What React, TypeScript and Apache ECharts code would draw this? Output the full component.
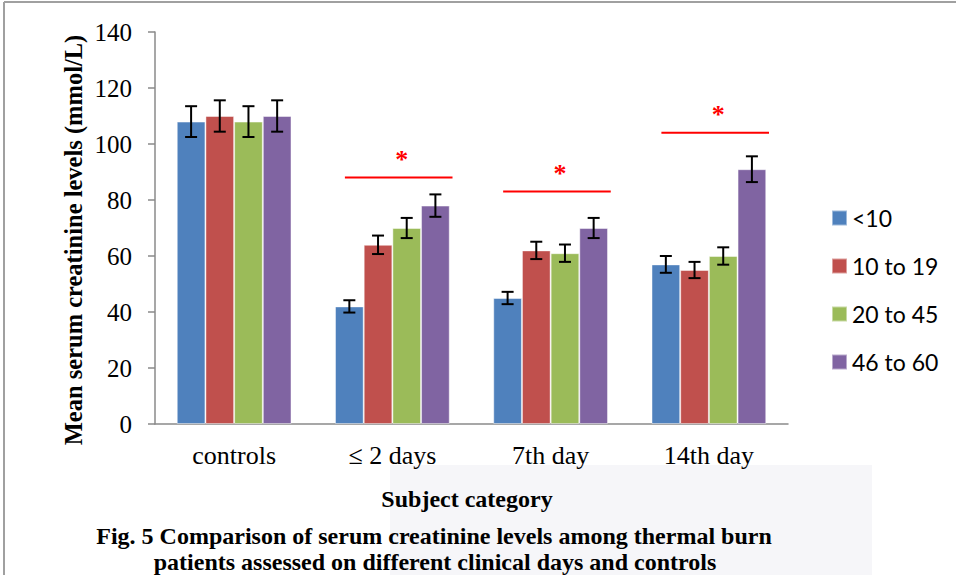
import React, { useEffect, useRef } from "react";
import * as echarts from "echarts";

const categories = ["controls", "≤ 2 days", "7th day", "14th day"];
const groupNames = ["<10", "10 to 19", "20 to 45", "46 to 60"];
const lt10 = [108, 42, 45, 57];
const g10to19 = [110, 64, 62, 55];
const g20to45 = [108, 70, 61, 60];
const g46to60 = [110, 78, 70, 91];
const errLt10 = [5.5, 2.2, 2.2, 3.0];
const err10to19 = [5.6, 3.3, 3.1, 2.9];
const err20to45 = [5.5, 3.6, 3.1, 3.1];
const err46to60 = [5.6, 4.0, 3.6, 4.6];
const sigCategories = [1, 2, 3];
const sigLevels = [88, 83, 104];
const yTicks = [0, 20, 40, 60, 80, 100, 120, 140];

const colors = ["#4F81BD", "#C0504D", "#9BBB59", "#8064A2"];
const SERIF = "Liberation Serif";
const GAP = 0.275;

export default function App() {
  const ref = useRef<HTMLDivElement>(null);
  useEffect(() => {
    document.body.style.margin = "0";
    const chart = echarts.init(ref.current!, null, { renderer: "svg" });
    const values = [lt10, g10to19, g20to45, g46to60];
    const errs = [errLt10, err10to19, err20to45, err46to60];
    const errData: number[][] = [];
    values.forEach((arr, s) =>
      arr.forEach((v, c) => errData.push([c, s, v, errs[s][c]]))
    );
    const sigData = sigCategories.map((c, i) => [c, sigLevels[i]]);

    const barSeries = groupNames.map((name, i) => ({
      name,
      type: "bar",
      data: values[i],
      barGap: "0%",
      barCategoryGap: GAP * 100 + "%",
      itemStyle: {
        color: colors[i],
        borderColor: "rgba(255,255,255,0.45)",
        borderWidth: 1,
      },
      z: 2,
    }));

    chart.setOption({
      animation: false,
      backgroundColor: "#ffffff",
      grid: { left: 155, right: 168, top: 32, bottom: 151 },
      legend: {
        data: groupNames,
        orient: "vertical",
        left: 831,
        top: 206,
        itemWidth: 15,
        itemHeight: 15,
        itemGap: 24,
        icon: "rect",
        textStyle: {
          fontFamily: "Lato",
          fontSize: 23,
          lineHeight: 24,
          color: "#000",
          padding: [0, 0, 0, 0],
        },
        padding: 0,
      },
      xAxis: {
        type: "category",
        data: categories,
        axisLine: { lineStyle: { color: "#8a8a8a", width: 1.5 } },
        axisTick: { length: 7, lineStyle: { color: "#8a8a8a", width: 1.5 } },
        axisLabel: {
          fontFamily: SERIF,
          fontSize: 26,
          color: "#000",
          margin: 18,
        },
      },
      yAxis: {
        type: "value",
        min: 0,
        max: 140,
        interval: 20,
        splitLine: { show: false },
        axisLine: { show: true, lineStyle: { color: "#8a8a8a", width: 1.5 } },
        axisTick: { show: true, length: 7, lineStyle: { color: "#8a8a8a", width: 1.5 } },
        axisLabel: {
          fontFamily: SERIF,
          fontSize: 25,
          color: "#000",
          margin: 23,
          formatter: (v: number) => (yTicks.includes(v) ? String(v) : ""),
        },
      },
      series: [
        ...barSeries,
        {
          type: "custom",
          name: "errors",
          data: errData,
          encode: { x: 0, y: 2 },
          z: 5,
          renderItem: (params: any, api: any) => {
            const cat = api.value(0);
            const s = api.value(1);
            const v = api.value(2);
            const e = api.value(3);
            const catW = api.size([1, 0])[0];
            const w = (catW * (1 - GAP)) / 4;
            const c = api.coord([cat, v]);
            const x = c[0] + (s - 1.5) * w;
            const yHi = api.coord([cat, v + e])[1];
            const yLo = api.coord([cat, v - e])[1];
            const cap = 6;
            const st = { stroke: "#000", lineWidth: 2 };
            return {
              type: "group",
              children: [
                { type: "line", shape: { x1: x, y1: yHi, x2: x, y2: yLo }, style: st },
                { type: "line", shape: { x1: x - cap, y1: yHi, x2: x + cap, y2: yHi }, style: st },
                { type: "line", shape: { x1: x - cap, y1: yLo, x2: x + cap, y2: yLo }, style: st },
              ],
            };
          },
        },
        {
          type: "custom",
          name: "significance",
          data: sigData,
          encode: { x: 0, y: 1 },
          z: 5,
          renderItem: (params: any, api: any) => {
            const cat = api.value(0);
            const lvl = api.value(1);
            const catW = api.size([1, 0])[0];
            const c = api.coord([cat, lvl]);
            const x1 = c[0] - 0.3 * catW;
            const x2 = c[0] + 0.38 * catW;
            return {
              type: "group",
              children: [
                {
                  type: "line",
                  shape: { x1, y1: c[1], x2, y2: c[1] },
                  style: { stroke: "#ff0000", lineWidth: 2 },
                },
                {
                  type: "text",
                  x: (x1 + x2) / 2 + 3,
                  y: c[1] - 18,
                  style: {
                    text: "*",
                    fill: "#ff0000",
                    fontFamily: SERIF,
                    fontWeight: "bold",
                    fontSize: 26,
                    align: "center",
                    verticalAlign: "middle",
                  },
                },
              ],
            };
          },
        },
      ],
      graphic: [
        {
          type: "rect",
          z: -10,
          silent: true,
          shape: { x: 390, y: 465, width: 482, height: 110 },
          style: { fill: "#f6f6f9" },
        },
        {
          type: "line",
          z: 10,
          shape: { x1: 4, y1: 2, x2: 956, y2: 2 },
          style: { stroke: "#a0a0a0", lineWidth: 2 },
        },
        {
          type: "line",
          z: 10,
          shape: { x1: 4, y1: 2, x2: 4, y2: 575 },
          style: { stroke: "#a0a0a0", lineWidth: 2 },
        },
        {
          type: "text",
          z: 10,
          x: 73,
          y: 240,
          rotation: Math.PI / 2,
          style: {
            text: "Mean serum creatinine levels (mmol/L)",
            fontFamily: SERIF,
            fontWeight: "bold",
            fontSize: 24.5,
            fill: "#000",
            align: "center",
            verticalAlign: "middle",
          },
        },
        {
          type: "text",
          z: 10,
          x: 467,
          y: 499,
          style: {
            text: "Subject category",
            fontFamily: SERIF,
            fontWeight: "bold",
            fontSize: 24,
            fill: "#000",
            align: "center",
            verticalAlign: "middle",
          },
        },
        {
          type: "text",
          z: 10,
          x: 434,
          y: 536,
          style: {
            text: "Fig. 5 Comparison of serum creatinine levels among thermal burn",
            fontFamily: SERIF,
            fontWeight: "bold",
            fontSize: 24,
            fill: "#000",
            align: "center",
            verticalAlign: "middle",
          },
        },
        {
          type: "text",
          z: 10,
          x: 435,
          y: 562,
          style: {
            text: "patients assessed on different clinical days and controls",
            fontFamily: SERIF,
            fontWeight: "bold",
            fontSize: 24,
            fill: "#000",
            align: "center",
            verticalAlign: "middle",
          },
        },
      ],
    });
    return () => chart.dispose();
  }, []);
  return <div ref={ref} style={{ width: 956, height: 575 }} />;
}
